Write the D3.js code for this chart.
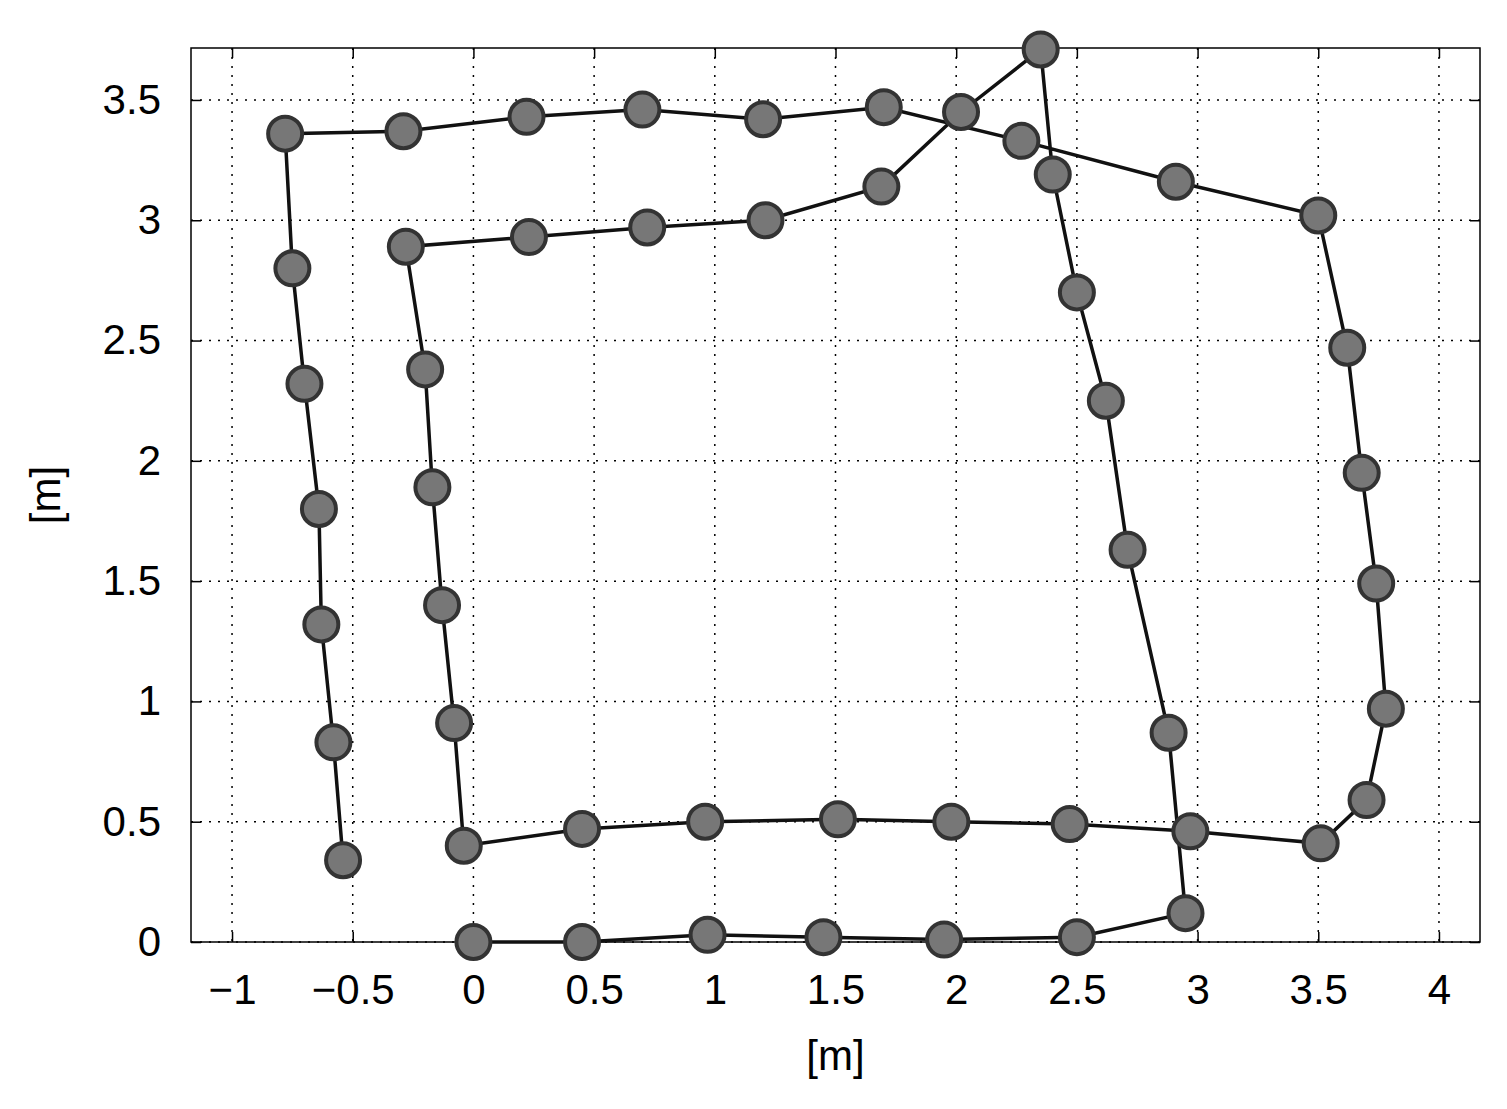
<!DOCTYPE html>
<html><head><meta charset="utf-8">
<script src="https://cdn.jsdelivr.net/npm/d3@7"></script>
<style>body{margin:0;background:#fff}svg{display:block}text{font-family:"Liberation Sans",Arial,sans-serif}</style>
</head><body><svg id="c" width="1507" height="1109"></svg>
<script>
// path in travel order
const xs = [0.00,0.45,0.97,1.45,1.95,2.50,2.95,
  2.88,2.71,2.62,2.50,2.40,2.35,
  2.02,1.69,1.21,0.72,0.23,-0.28,
  -0.20,-0.17,-0.13,-0.08,-0.04,
  0.45,0.96,1.51,1.98,2.47,2.97,3.51,
  3.70,3.78,3.74,3.68,3.62,3.50,
  2.91,2.27,1.70,1.20,0.70,0.22,-0.29,-0.78,
  -0.75,-0.70,-0.64,-0.63,-0.58,-0.54]
const ys = [0.00,0.00,0.03,0.02,0.01,0.02,0.12,
  0.87,1.63,2.25,2.70,3.19,3.71,
  3.45,3.14,3.00,2.97,2.93,2.89,
  2.38,1.89,1.40,0.91,0.40,
  0.47,0.50,0.51,0.50,0.49,0.46,0.41,
  0.59,0.97,1.49,1.95,2.47,3.02,
  3.16,3.33,3.47,3.42,3.46,3.43,3.37,3.36,
  2.80,2.32,1.80,1.32,0.83,0.34]
const xTicks = [-1,-0.5,0,0.5,1,1.5,2,2.5,3,3.5,4]
const yTicks = [0,0.5,1,1.5,2,2.5,3,3.5]

const svg = d3.select('#c')
const L = 191, R = 1480, T = 48, B = 942
const x = d3.scaleLinear().domain([-1.17, 4.17]).range([L, R])
const y = d3.scaleLinear().domain([0, 3.716]).range([B, T])
const fmt = d => d < 0 ? '\u2212' + Math.abs(d) : String(d)

const grid = svg.append('g').attr('stroke', '#000').attr('stroke-width', 1.5).attr('stroke-dasharray', '2,7')
grid.selectAll('.gx').data(xTicks).join('line')
  .attr('x1', d => x(d)).attr('x2', d => x(d)).attr('y1', T).attr('y2', B)
grid.selectAll('.gy').data(yTicks).join('line')
  .attr('y1', d => y(d)).attr('y2', d => y(d)).attr('x1', L).attr('x2', R)

const ax = svg.append('g').attr('transform', `translate(0,${B})`)
  .call(d3.axisBottom(x).tickValues(xTicks).tickSizeInner(-10).tickSizeOuter(0).tickPadding(32).tickFormat(fmt))
const ay = svg.append('g').attr('transform', `translate(${L},0)`)
  .call(d3.axisLeft(y).tickValues(yTicks).tickSizeInner(-10).tickSizeOuter(0).tickPadding(30).tickFormat(d => String(d)))
const axT = svg.append('g').attr('transform', `translate(0,${T})`)
  .call(d3.axisTop(x).tickValues(xTicks).tickSizeInner(-10).tickSizeOuter(0).tickFormat(''))
const ayR = svg.append('g').attr('transform', `translate(${R},0)`)
  .call(d3.axisRight(y).tickValues(yTicks).tickSizeInner(-10).tickSizeOuter(0).tickFormat(''))
;[ax, ay, axT, ayR].forEach(g => {
  g.select('.domain').remove()
  g.selectAll('line').attr('stroke-width', 1.5)
  g.selectAll('text').attr('font-size', 42).attr('fill', '#000')
})
svg.append('rect').attr('x', L).attr('y', T).attr('width', R - L).attr('height', B - T)
  .attr('fill', 'none').attr('stroke', '#000').attr('stroke-width', 1.5)

const pts = xs.map((v, i) => [v, ys[i]])
svg.append('path').datum(pts)
  .attr('d', d3.line().x(d => x(d[0])).y(d => y(d[1])))
  .attr('fill', 'none').attr('stroke', '#111').attr('stroke-width', 3.5)
svg.selectAll('circle').data(pts).join('circle')
  .attr('cx', d => x(d[0])).attr('cy', d => y(d[1])).attr('r', 17)
  .attr('fill', '#777').attr('stroke', '#333').attr('stroke-width', 4)

svg.append('text').attr('x', (L + R) / 2).attr('y', 1070).attr('text-anchor', 'middle')
  .attr('font-size', 42).text('[m]')
svg.append('text').attr('transform', `translate(60,${(T + B) / 2}) rotate(-90)`)
  .attr('text-anchor', 'middle').attr('font-size', 42).text('[m]')
</script></body></html>
